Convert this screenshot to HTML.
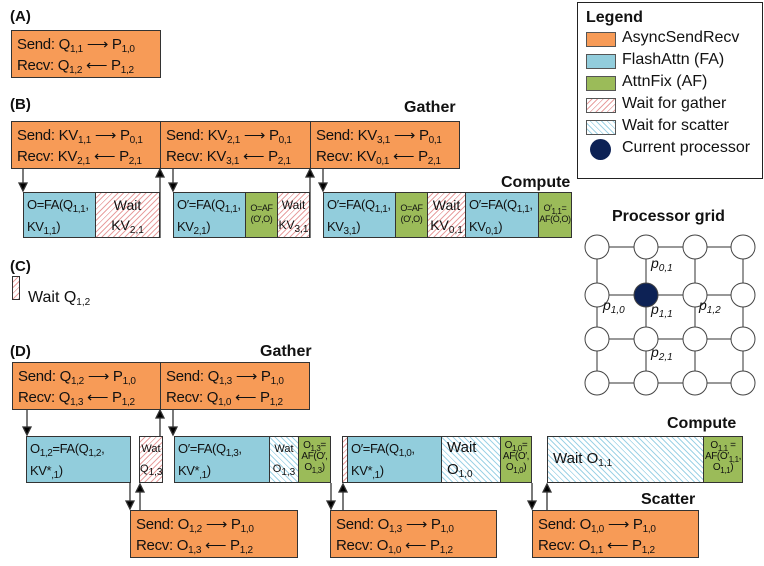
<!DOCTYPE html>
<html><head><meta charset="utf-8"><style>
body{margin:0;width:764px;height:566px;background:#fff;position:relative;overflow:hidden;font-family:"Liberation Sans",Arial,sans-serif;color:#111}
div{position:absolute;box-sizing:border-box}
.o{background:#F79B57;border:1px solid #333;font-size:15px;line-height:21px;padding:3px 0 0 5px;white-space:nowrap;letter-spacing:-0.3px}
.b{background:#92CDDC;border:1px solid #333;font-size:13px;line-height:22px;padding:1px 0 0 3px;white-space:nowrap;overflow:hidden;letter-spacing:-0.4px}
.g{background:#9BBB59;border:1px solid #333;font-size:9px;line-height:11px;text-align:center;padding-top:4px;overflow:hidden;white-space:nowrap;letter-spacing:-0.4px}
.wg{border:1px solid #333;background:repeating-linear-gradient(135deg,#fff 0 3px,#e8a0a0 3px 4px);font-size:14px;line-height:20px;text-align:center;overflow:hidden;white-space:nowrap}
.ws{border:1px solid #333;background:repeating-linear-gradient(45deg,#fff 0 3px,#9fd3e6 3px 4px);font-size:14px;line-height:20px;overflow:hidden;white-space:nowrap}
sub{font-size:10px;vertical-align:-3px;line-height:0}
.h{font-weight:bold;font-size:16px}
.lab{font-weight:bold;font-size:15px}
.sw{width:30px;height:15px;border:1px solid #555;left:8px}
.li{font-size:16px;left:44px}
</style></head><body>
<div class="lab" style="left:10px;top:8px">(A)</div>
<div class="o" style="left:11px;top:30px;width:150px;height:48px">Send: Q<sub>1,1</sub> ⟶ P<sub>1,0</sub><br>Recv: Q<sub>1,2</sub> ⟵ P<sub>1,2</sub></div>

<div class="lab" style="left:10px;top:96px">(B)</div>
<div class="h" style="left:404px;top:99px">Gather</div>
<div class="o" style="left:11px;top:121px;width:150px;height:48px">Send: KV<sub>1,1</sub> ⟶ P<sub>0,1</sub><br>Recv: KV<sub>2,1</sub> ⟵ P<sub>2,1</sub></div>
<div class="o" style="left:160px;top:121px;width:151px;height:48px">Send: KV<sub>2,1</sub> ⟶ P<sub>0,1</sub><br>Recv: KV<sub>3,1</sub> ⟵ P<sub>2,1</sub></div>
<div class="o" style="left:310px;top:121px;width:150px;height:48px">Send: KV<sub>3,1</sub> ⟶ P<sub>0,1</sub><br>Recv: KV<sub>0,1</sub> ⟵ P<sub>2,1</sub></div>
<div class="h" style="left:501px;top:174px">Compute</div>
<div class="b" style="left:23px;top:192px;width:73px;height:46px">O=FA(Q<sub>1,1</sub>,<br>KV<sub>1,1</sub>)</div>
<div class="wg" style="left:95px;top:192px;width:65px;height:46px;padding-top:2px">Wait<br>KV<sub>2,1</sub></div>
<div class="b" style="left:173px;top:192px;width:73px;height:46px">O′=FA(Q<sub>1,1</sub>,<br>KV<sub>2,1</sub>)</div>
<div class="g" style="left:245px;top:192px;width:33px;height:46px;padding-top:10px">O=AF<br>(O′,O)</div>
<div class="wg" style="left:277px;top:192px;width:33px;height:46px;font-size:12px;padding-top:2px">Wait<br>KV<sub>3,1</sub></div>
<div class="b" style="left:323px;top:192px;width:73px;height:46px">O′=FA(Q<sub>1,1</sub>,<br>KV<sub>3,1</sub>)</div>
<div class="g" style="left:395px;top:192px;width:33px;height:46px;padding-top:10px">O=AF<br>(O′,O)</div>
<div class="wg" style="left:427px;top:192px;width:39px;height:46px;padding-top:2px">Wait<br>KV<sub>0,1</sub></div>
<div class="b" style="left:465px;top:192px;width:74px;height:46px">O′=FA(Q<sub>1,1</sub>,<br>KV<sub>0,1</sub>)</div>
<div class="g" style="left:538px;top:192px;width:34px;height:46px;padding-top:10px">O′<sub style="font-size:8px">1,1</sub>=<br>AF(O,O)</div>

<div class="lab" style="left:10px;top:258px">(C)</div>
<div class="wg" style="left:12px;top:276px;width:8px;height:24px"></div>
<div style="left:28px;top:289px;font-size:16px">Wait Q<sub>1,2</sub></div>

<div class="lab" style="left:10px;top:343px">(D)</div>
<div class="h" style="left:260px;top:343px">Gather</div>
<div class="o" style="left:12px;top:362px;width:149px;height:48px">Send: Q<sub>1,2</sub> ⟶ P<sub>1,0</sub><br>Recv: Q<sub>1,3</sub> ⟵ P<sub>1,2</sub></div>
<div class="o" style="left:160px;top:362px;width:150px;height:48px">Send: Q<sub>1,3</sub> ⟶ P<sub>1,0</sub><br>Recv: Q<sub>1,0</sub> ⟵ P<sub>1,2</sub></div>
<div class="h" style="left:667px;top:415px">Compute</div>
<div class="b" style="left:26px;top:436px;width:105px;height:47px">O<sub>1,2</sub>=FA(Q<sub>1,2</sub>,<br>KV*<sub>,1</sub>)</div>
<div class="wg" style="left:139px;top:436px;width:24px;height:47px;font-size:11px;padding-top:2px">Wat<br>Q<sub>1,3</sub></div>
<div class="b" style="left:174px;top:436px;width:96px;height:47px">O′=FA(Q<sub>1,3</sub>,<br>KV*<sub>,1</sub>)</div>
<div class="ws" style="left:269px;top:436px;width:30px;height:47px;font-size:11px;text-align:center;padding-top:2px">Wat<br>O<sub>1,3</sub></div>
<div class="g" style="left:298px;top:436px;width:33px;height:47px;font-size:10px;padding-top:3px">O<sub style="font-size:8px">1,3</sub>=<br>AF(O′,<br>O<sub style="font-size:8px">1,3</sub>)</div>
<div class="wg" style="left:342px;top:436px;width:6px;height:47px"></div>
<div class="b" style="left:347px;top:436px;width:95px;height:47px">O′=FA(Q<sub>1,0</sub>,<br>KV*<sub>,1</sub>)</div>
<div class="ws" style="left:441px;top:436px;width:60px;height:47px;padding:0 0 0 5px;font-size:15px;line-height:22px">Wait<br>O<sub>1,0</sub></div>
<div class="g" style="left:500px;top:436px;width:32px;height:47px;font-size:10px;padding-top:3px">O<sub style="font-size:8px">1,0</sub>=<br>AF(O′,<br>O<sub style="font-size:8px">1,0</sub>)</div>
<div class="ws" style="left:547px;top:436px;width:157px;height:47px;padding:12px 0 0 5px;font-size:15px">Wait O<sub>1,1</sub></div>
<div class="g" style="left:703px;top:436px;width:40px;height:47px;font-size:10px;padding-top:3px">O<sub style="font-size:8px">1,1</sub> =<br>AF(O′<sub style="font-size:8px">1,1</sub>,<br>O<sub style="font-size:8px">1,1</sub>)</div>
<div class="h" style="left:641px;top:491px">Scatter</div>
<div class="o" style="left:130px;top:510px;width:168px;height:48px">Send: O<sub>1,2</sub> ⟶ P<sub>1,0</sub><br>Recv: O<sub>1,3</sub> ⟵ P<sub>1,2</sub></div>
<div class="o" style="left:330px;top:510px;width:167px;height:48px">Send: O<sub>1,3</sub> ⟶ P<sub>1,0</sub><br>Recv: O<sub>1,0</sub> ⟵ P<sub>1,2</sub></div>
<div class="o" style="left:532px;top:510px;width:167px;height:48px">Send: O<sub>1,0</sub> ⟶ P<sub>1,0</sub><br>Recv: O<sub>1,1</sub> ⟵ P<sub>1,2</sub></div>

<!-- legend -->
<div style="left:577px;top:2px;width:186px;height:177px;border:1.5px solid #222">
<div class="h" style="left:8px;top:6px">Legend</div>
<div class="sw" style="top:29px;background:#F79B57"></div><div class="li" style="top:26px">AsyncSendRecv</div>
<div class="sw" style="top:51px;background:#92CDDC"></div><div class="li" style="top:48px">FlashAttn (FA)</div>
<div class="sw" style="top:73px;background:#9BBB59"></div><div class="li" style="top:70px">AttnFix (AF)</div>
<div class="sw" style="top:95px;background:repeating-linear-gradient(135deg,#fff 0 3px,#e8a0a0 3px 4px)"></div><div class="li" style="top:92px">Wait for gather</div>
<div class="sw" style="top:117px;background:repeating-linear-gradient(45deg,#fff 0 3px,#9fd3e6 3px 4px)"></div><div class="li" style="top:114px">Wait for scatter</div>
<div style="left:12px;top:136px;width:21px;height:21px;border-radius:50%;background:#0d2255"></div><div class="li" style="top:136px">Current processor</div>
</div>
<div class="h" style="left:612px;top:208px">Processor grid</div>

<svg width="764" height="566" style="position:absolute;left:0;top:0" xmlns="http://www.w3.org/2000/svg">
<g stroke="#333" stroke-width="1.3" fill="none">
<line x1="23" y1="169" x2="23" y2="184"/><path d="M19,183 L27,183 L23,191z" fill="#000"/>
<line x1="160" y1="238" x2="160" y2="177"/><path d="M156,177 L164,177 L160,169z" fill="#000"/>
<line x1="173" y1="169" x2="173" y2="184"/><path d="M169,183 L177,183 L173,191z" fill="#000"/>
<line x1="310" y1="238" x2="310" y2="177"/><path d="M306,177 L314,177 L310,169z" fill="#000"/>
<line x1="323" y1="169" x2="323" y2="184"/><path d="M319,183 L327,183 L323,191z" fill="#000"/>
<line x1="27" y1="410" x2="27" y2="428"/><path d="M23,427 L31,427 L27,435z" fill="#000"/>
<line x1="160" y1="436" x2="160" y2="418"/><path d="M156,418 L164,418 L160,410z" fill="#000"/>
<line x1="173" y1="410" x2="173" y2="428"/><path d="M169,427 L177,427 L173,435z" fill="#000"/>
<line x1="130" y1="483" x2="130" y2="502"/><path d="M126,501 L134,501 L130,509z" fill="#000"/>
<line x1="140" y1="510" x2="140" y2="492"/><path d="M136,492 L144,492 L140,484z" fill="#000"/>
<line x1="331" y1="483" x2="331" y2="502"/><path d="M327,501 L335,501 L331,509z" fill="#000"/>
<line x1="343" y1="510" x2="343" y2="492"/><path d="M339,492 L347,492 L343,484z" fill="#000"/>
<line x1="532" y1="483" x2="532" y2="502"/><path d="M528,501 L536,501 L532,509z" fill="#000"/>
<line x1="547" y1="510" x2="547" y2="492"/><path d="M543,492 L551,492 L547,484z" fill="#000"/>
</g>
<g stroke="#777" stroke-width="1.5">
<line x1="597" y1="247" x2="743" y2="247"/><line x1="597" y1="295" x2="743" y2="295"/>
<line x1="597" y1="339" x2="743" y2="339"/><line x1="597" y1="383" x2="743" y2="383"/>
<line x1="597" y1="247" x2="597" y2="383"/><line x1="646" y1="247" x2="646" y2="383"/>
<line x1="695" y1="247" x2="695" y2="383"/><line x1="743" y1="247" x2="743" y2="383"/>
</g>
<g fill="#fff" stroke="#444" stroke-width="1">
<circle cx="597" cy="247" r="12"/><circle cx="646" cy="247" r="12"/><circle cx="695" cy="247" r="12"/><circle cx="743" cy="247" r="12"/>
<circle cx="597" cy="295" r="12"/><circle cx="646" cy="295" r="12" fill="#0d2255"/><circle cx="695" cy="295" r="12"/><circle cx="743" cy="295" r="12"/>
<circle cx="597" cy="339" r="12"/><circle cx="646" cy="339" r="12"/><circle cx="695" cy="339" r="12"/><circle cx="743" cy="339" r="12"/>
<circle cx="597" cy="383" r="12"/><circle cx="646" cy="383" r="12"/><circle cx="695" cy="383" r="12"/><circle cx="743" cy="383" r="12"/>
</g>
<g font-family="Liberation Sans, sans-serif" font-style="italic" font-size="14" fill="#111">
<text x="651" y="268">p<tspan font-size="10" dy="3">0,1</tspan></text>
<text x="603" y="310">p<tspan font-size="10" dy="3">1,0</tspan></text>
<text x="651" y="314">p<tspan font-size="10" dy="3">1,1</tspan></text>
<text x="699" y="310">p<tspan font-size="10" dy="3">1,2</tspan></text>
<text x="651" y="357">p<tspan font-size="10" dy="3">2,1</tspan></text>
</g>
</svg>
</body></html>
